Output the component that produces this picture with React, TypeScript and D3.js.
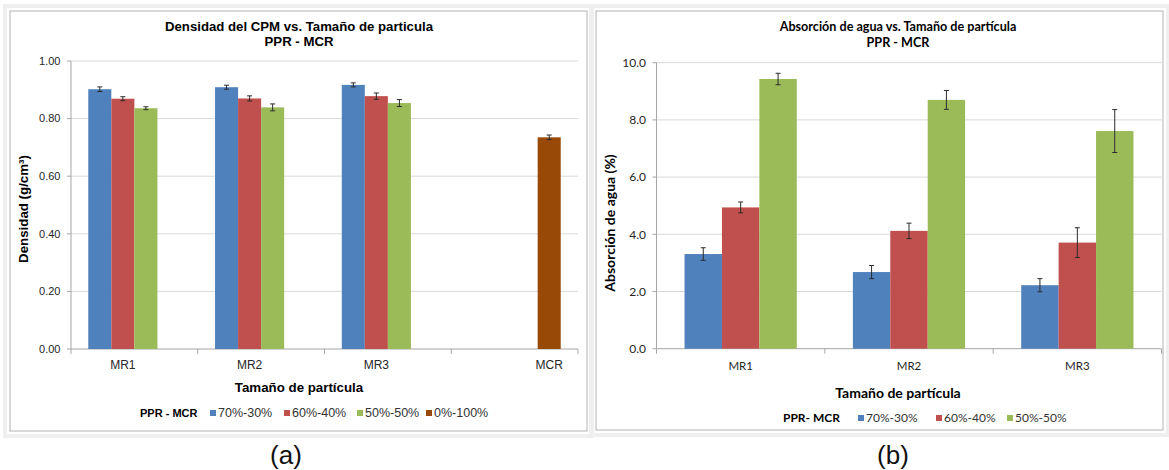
import { useEffect, useRef } from "react";
import * as d3 from "d3";

// ---- Densidad (a) ----
const densCategories = ["MR1", "MR2", "MR3", "MCR"];
const densSeriesNames = ["70%-30%", "60%-40%", "50%-50%", "0%-100%"];
const dens7030 = [0.902, 0.909, 0.917, null];
const dens6040 = [0.869, 0.87, 0.878, null];
const dens5050 = [0.836, 0.839, 0.854, null];
const dens0100 = [null, null, null, 0.735];
const densErr7030 = [0.008, 0.007, 0.007, null];
const densErr6040 = [0.007, 0.009, 0.011, null];
const densErr5050 = [0.005, 0.012, 0.012, null];
const densErr0100 = [null, null, null, 0.008];
const densTicks = [0, 0.2, 0.4, 0.6, 0.8, 1.0];

// ---- Absorción de agua (b) ----
const absCategories = ["MR1", "MR2", "MR3"];
const absSeriesNames = ["70%-30%", "60%-40%", "50%-50%"];
const abs7030 = [3.31, 2.68, 2.22];
const abs6040 = [4.94, 4.12, 3.71];
const abs5050 = [9.43, 8.7, 7.61];
const absErr7030 = [0.22, 0.23, 0.23];
const absErr6040 = [0.19, 0.27, 0.52];
const absErr5050 = [0.2, 0.33, 0.75];
const absTicks = [0, 2, 4, 6, 8, 10];

const COLORS = ["#4F81BD", "#C0504D", "#9BBB59", "#984807"];

interface PanelCfg {
  frame: [number, number, number, number];
  plot: { left: number; right: number; top: number; bottom: number };
  font: string;
  tickSize: number;
  xLabelSize: number;
  titleSize: number;
  axisTitleSize: number;
  legendSize: number;
  legendLabelSize: number;
  titles: { text: string; y: number }[];
  titleX: number;
  yTitle: string;
  yTitleX: number;
  yTitleY: number;
  xTitle: string;
  xTitleY: number;
  xLabelY: number;
  yFmt: (v: number) => string;
  ticks: number[];
  legendLabel: string;
  legendX: number;
  legendY: number;
  legendItemX: number[];
  categories: string[];
  seriesNames: string[];
  values: (number | null)[][];
  errors: (number | null)[][];
  letter: string;
  letterX: number;
}

function drawPanel(svg: d3.Selection<SVGSVGElement, unknown, null, undefined>, c: PanelCfg) {
  const g = svg.append("g").style("font-family", c.font);
  const [fx, fy, fw, fh] = c.frame;
  // outer faint shadow + chart border
  g.append("rect").attr("x", fx - 5).attr("y", fy - 5).attr("width", fw + 10).attr("height", fh + 10)
    .attr("fill", "none").attr("stroke", "#efefef").attr("stroke-width", 4);
  g.append("rect").attr("x", fx).attr("y", fy).attr("width", fw).attr("height", fh)
    .attr("fill", "#fff").attr("stroke", "#b3b3b3").attr("stroke-width", 1);

  const { left, right, top, bottom } = c.plot;
  const y = d3.scaleLinear().domain([0, c.ticks[c.ticks.length - 1]]).range([bottom, top]);
  const x0 = d3.scaleBand<string>().domain(c.categories).range([left, right]).padding(0);
  const n = c.seriesNames.length;
  // Excel-like gap width of 150%
  const barW = x0.bandwidth() / (n + 1.5);
  const x1 = d3.scaleBand<number>().domain(d3.range(n))
    .range([barW * 0.75, x0.bandwidth() - barW * 0.75]).padding(0);

  // gridlines
  g.selectAll(".grid").data(c.ticks.slice(1)).enter().append("line")
    .attr("x1", left).attr("x2", right).attr("y1", (d) => y(d)).attr("y2", (d) => y(d))
    .attr("stroke", "#d9d9d9").attr("stroke-width", 1);

  // y axis
  g.append("line").attr("x1", left).attr("x2", left).attr("y1", top).attr("y2", bottom)
    .attr("stroke", "#a6a6a6");
  g.selectAll(".ytick").data(c.ticks).enter().append("line")
    .attr("x1", left - 4).attr("x2", left).attr("y1", (d) => y(d)).attr("y2", (d) => y(d))
    .attr("stroke", "#a6a6a6");
  g.selectAll(".ylab").data(c.ticks).enter().append("text")
    .attr("x", left - 10.5).attr("y", (d) => y(d)).attr("dy", "0.35em")
    .attr("text-anchor", "end").attr("font-size", c.tickSize).attr("fill", "#262626")
    .text((d) => c.yFmt(d));

  // x axis
  g.append("line").attr("x1", left).attr("x2", right).attr("y1", bottom).attr("y2", bottom)
    .attr("stroke", "#a6a6a6");
  const bounds = c.categories.map((d) => x0(d)!).concat([right]);
  g.selectAll(".xtick").data(bounds).enter().append("line")
    .attr("x1", (d) => d).attr("x2", (d) => d).attr("y1", bottom).attr("y2", bottom + 5)
    .attr("stroke", "#a6a6a6");

  // bars + error bars
  c.values.forEach((series, si) => {
    series.forEach((v, ci) => {
      if (v == null) return;
      const bx = x0(c.categories[ci])! + x1(si)!;
      g.append("rect").attr("x", bx).attr("y", y(v)).attr("width", x1.bandwidth())
        .attr("height", bottom - y(v)).attr("fill", COLORS[si]);
      const e = c.errors[si][ci];
      if (e != null) {
        const cx = bx + x1.bandwidth() / 2;
        const eg = g.append("g").attr("stroke", "#2b2b2b").attr("stroke-width", 1);
        eg.append("line").attr("x1", cx).attr("x2", cx).attr("y1", y(v + e)).attr("y2", y(v - e));
        eg.append("line").attr("x1", cx - 2.5).attr("x2", cx + 2.5).attr("y1", y(v + e)).attr("y2", y(v + e));
        eg.append("line").attr("x1", cx - 2.5).attr("x2", cx + 2.5).attr("y1", y(v - e)).attr("y2", y(v - e));
      }
    });
  });

  // category labels centred under the bars actually drawn
  c.categories.forEach((cat, ci) => {
    const centres = c.values
      .map((s, si) => (s[ci] == null ? null : x0(cat)! + x1(si)! + x1.bandwidth() / 2))
      .filter((d) => d != null) as number[];
    g.append("text").attr("x", d3.mean(centres)!).attr("y", c.xLabelY).attr("dy", "0.35em")
      .attr("text-anchor", "middle").attr("font-size", c.xLabelSize).attr("fill", "#262626").text(cat);
  });

  // titles
  c.titles.forEach((t) => {
    g.append("text").attr("x", c.titleX).attr("y", t.y).attr("dy", "0.35em")
      .attr("text-anchor", "middle").attr("font-size", c.titleSize).attr("font-weight", "bold")
      .attr("fill", "#000").text(t.text);
  });
  g.append("text").attr("transform", `translate(${c.yTitleX},${c.yTitleY}) rotate(-90)`)
    .attr("dy", "0.35em").attr("text-anchor", "middle").attr("font-size", c.axisTitleSize)
    .attr("font-weight", "bold").text(c.yTitle);
  g.append("text").attr("x", c.titleX).attr("y", c.xTitleY).attr("dy", "0.35em")
    .attr("text-anchor", "middle").attr("font-size", c.axisTitleSize).attr("font-weight", "bold")
    .text(c.xTitle);

  // legend
  g.append("text").attr("x", c.legendX).attr("y", c.legendY).attr("dy", "0.35em")
    .attr("font-size", c.legendLabelSize).attr("font-weight", "bold").text(c.legendLabel);
  c.seriesNames.forEach((name, i) => {
    const lx = c.legendItemX[i];
    g.append("rect").attr("x", lx).attr("y", c.legendY - 3).attr("width", 6).attr("height", 6)
      .attr("fill", COLORS[i]);
    g.append("text").attr("x", lx + 8).attr("y", c.legendY).attr("dy", "0.35em")
      .attr("font-size", c.legendSize).attr("fill", "#333").text(name);
  });

  // panel letter
  svg.append("text").attr("x", c.letterX).attr("y", 455).attr("dy", "0.35em")
    .attr("text-anchor", "middle").attr("font-family", "Liberation Sans, Arial, sans-serif")
    .attr("font-size", 26).attr("fill", "#111").text(c.letter);
}

export default function App() {
  const svgRef = useRef<SVGSVGElement | null>(null);

  useEffect(() => {
    if (!svgRef.current) return;
    const svg = d3.select(svgRef.current);
    svg.selectAll("*").remove();

    drawPanel(svg, {
      frame: [10, 11, 577, 420],
      plot: { left: 71, right: 578, top: 61, bottom: 349 },
      font: "Liberation Sans, Arial, sans-serif",
      tickSize: 11,
      xLabelSize: 12,
      titleSize: 13.2,
      axisTitleSize: 13.3,
      legendSize: 12.5,
      legendLabelSize: 11,
      titles: [
        { text: "Densidad del CPM vs. Tamaño de particula", y: 26.5 },
        { text: "PPR - MCR", y: 41.5 },
      ],
      titleX: 299,
      yTitle: "Densidad (g/cm³)",
      yTitleX: 23,
      yTitleY: 209,
      xTitle: "Tamaño de partícula",
      xTitleY: 387,
      xLabelY: 365,
      yFmt: d3.format(".2f"),
      ticks: densTicks,
      legendLabel: "PPR - MCR",
      legendX: 140,
      legendY: 413,
      legendItemX: [210, 284, 357, 426],
      categories: densCategories,
      seriesNames: densSeriesNames,
      values: [dens7030, dens6040, dens5050, dens0100],
      errors: [densErr7030, densErr6040, densErr5050, densErr0100],
      letter: "(a)",
      letterX: 286,
    });

    drawPanel(svg, {
      frame: [596, 11, 567, 419],
      plot: { left: 656.5, right: 1161.5, top: 62.7, bottom: 348.7 },
      font: "Lato, Carlito, sans-serif",
      tickSize: 12,
      xLabelSize: 11.5,
      titleSize: 12.6,
      axisTitleSize: 14,
      legendSize: 12,
      legendLabelSize: 12,
      titles: [
        { text: "Absorción de agua vs. Tamaño de partícula", y: 27 },
        { text: "PPR - MCR", y: 43 },
      ],
      titleX: 898,
      yTitle: "Absorción de agua (%)",
      yTitleX: 610,
      yTitleY: 223,
      xTitle: "Tamaño de partícula",
      xTitleY: 393,
      xLabelY: 366,
      yFmt: d3.format(".1f"),
      ticks: absTicks,
      legendLabel: "PPR- MCR",
      legendX: 783,
      legendY: 418,
      legendItemX: [858, 936, 1007],
      categories: absCategories,
      seriesNames: absSeriesNames,
      values: [abs7030, abs6040, abs5050],
      errors: [absErr7030, absErr6040, absErr5050],
      letter: "(b)",
      letterX: 893,
    });
  }, []);

  return (
    <svg
      ref={svgRef}
      width={1169}
      height={470}
      style={{ position: "absolute", left: 0, top: 0, background: "#fff" }}
    />
  );
}
